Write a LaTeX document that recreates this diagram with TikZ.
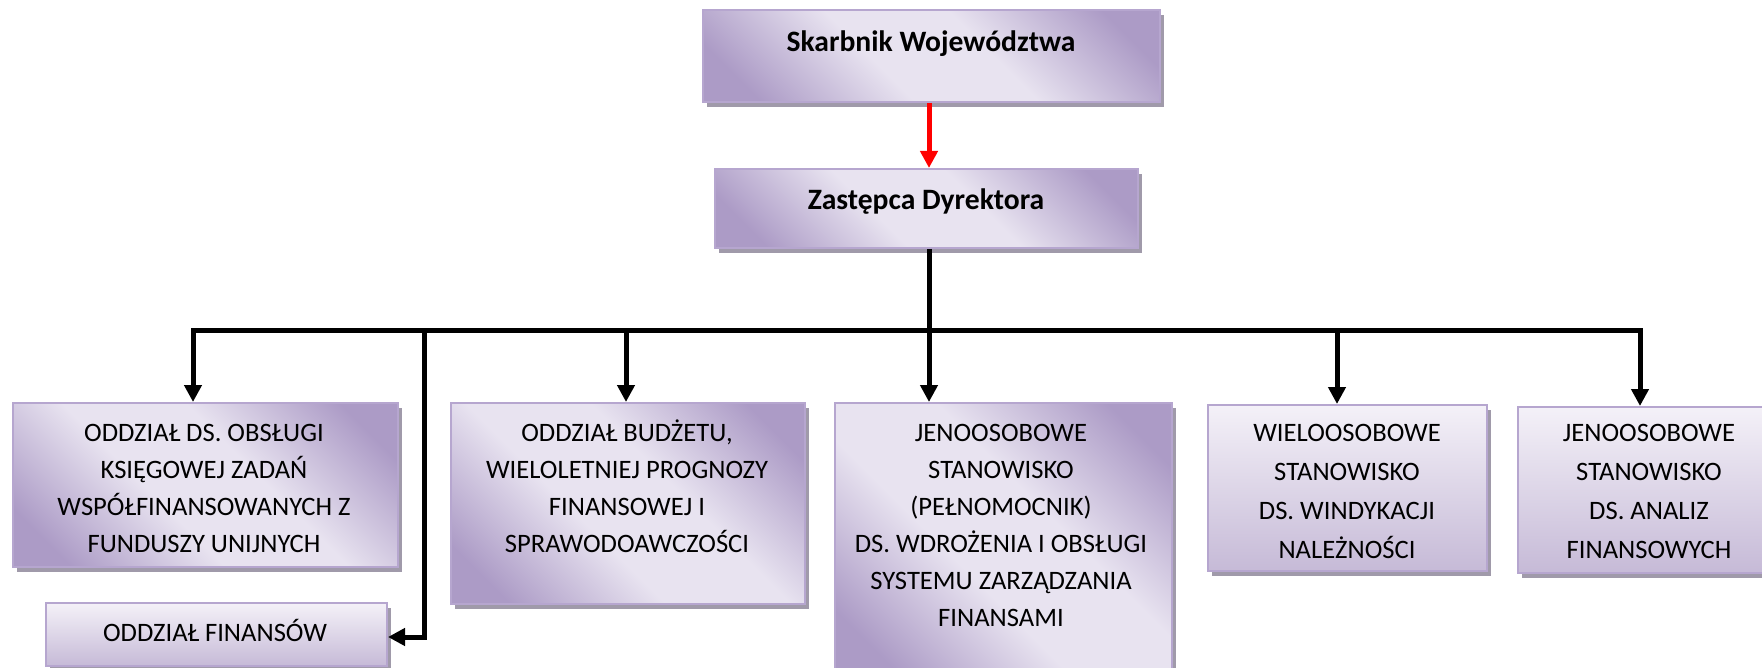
\documentclass[tikz,border=0pt]{standalone}
\usepackage{fontspec}
\setmainfont{Carlito}
\usetikzlibrary{arrows.meta,shadows}

\definecolor{pdark}{RGB}{172,155,198}
\definecolor{plight}{RGB}{232,227,240}
\definecolor{vtop}{RGB}{244,241,248}
\definecolor{vbot}{RGB}{198,186,215}
\definecolor{pborder}{RGB}{182,166,207}
\definecolor{shadowc}{RGB}{160,154,170}
\definecolor{linkred}{RGB}{255,0,0}

% dark corner - light band - dark corner, laid along the box diagonal
\pgfdeclarehorizontalshading{boxdiag}{100bp}{color(0bp)=(pdark); color(22bp)=(pdark); color(42bp)=(plight); color(58bp)=(plight); color(78bp)=(pdark); color(100bp)=(pdark)}

\tikzset{
  orgbox/.style={rectangle, draw=pborder, line width=2pt, inner sep=0pt,
    drop shadow={shadow xshift=4pt, shadow yshift=-5pt, fill=shadowc, opacity=1}},
  diagfill/.style={shading=boxdiag, shading angle=45},
  vertfill/.style={top color=vtop, bottom color=vbot},
  boxtext/.style={inner sep=0pt, align=center, anchor=north, text=black,
    font=\fontsize{26.6}{37}\selectfont},
  widetext/.style={boxtext, font=\fontsize{26.6}{39}\selectfont},
  titletext/.style={inner sep=0pt, anchor=base, text=black,
    font=\fontsize{29.6}{34}\selectfont\bfseries},
  link/.style={line width=5pt, black, -{Triangle[width=17pt,length=17pt]}},
  redlink/.style={line width=5pt, linkred, -{Triangle[width=17pt,length=17pt]}},
  busline/.style={line width=5pt, black},
}

\begin{document}
\begin{tikzpicture}[x=1pt, y=-1pt]
  \useasboundingbox (0,0) rectangle (1762,668);
  \clip (0,0) rectangle (1762,668);

  % head of the unit and deputy
  \node[orgbox, diagfill, minimum width=457pt, minimum height=92pt] (skarb) at (931.5,56) {};
  \node[titletext] (tskarb) at (931,52) {Skarbnik Województwa};
  \node[orgbox, diagfill, minimum width=423pt, minimum height=79pt] (zast) at (926.5,208.5) {};
  \node[titletext] (tzast) at (926,210) {Zastępca Dyrektora};

  % subordinate units
  \node[orgbox, diagfill, minimum width=385pt, minimum height=164pt] (b1) at (205.5,485) {};
  \node[boxtext] (t1) at (204,415) {\strut ODDZIAŁ DS. OBSŁUGI\\KSIĘGOWEJ ZADAŃ\\WSPÓŁFINANSOWANYCH Z\\FUNDUSZY UNIJNYCH};

  \node[orgbox, vertfill, minimum width=341pt, minimum height=63pt] (bf) at (216.5,634.5) {};
  \node[inner sep=0pt, anchor=base, font=\fontsize{26.6}{37}\selectfont] (tf) at (215,641) {ODDZIAŁ FINANSÓW};

  \node[orgbox, diagfill, minimum width=354pt, minimum height=201pt] (b2) at (628,503.5) {};
  \node[boxtext] (t2) at (627,415) {\strut ODDZIAŁ BUDŻETU,\\WIELOLETNIEJ PROGNOZY\\FINANSOWEJ I\\SPRAWODOAWCZOŚCI};

  \node[orgbox, diagfill, minimum width=337pt, minimum height=272pt] (b3) at (1003.5,539) {};
  \node[boxtext] (t3) at (1001,415) {\strut JENOOSOBOWE\\STANOWISKO\\(PEŁNOMOCNIK)\\DS. WDROŻENIA I OBSŁUGI\\SYSTEMU ZARZĄDZANIA\\FINANSAMI};

  \node[orgbox, vertfill, minimum width=279pt, minimum height=166pt] (b4) at (1347.5,488) {};
  \node[widetext] (t4) at (1347,413.7) {\strut WIELOOSOBOWE\\STANOWISKO\\DS. WINDYKACJI\\NALEŻNOŚCI};

  \node[orgbox, vertfill, minimum width=262pt, minimum height=166pt] (b5) at (1649,490) {};
  \node[widetext] (t5) at (1649,413.7) {\strut JENOOSOBOWE\\STANOWISKO\\DS. ANALIZ\\FINANSOWYCH};

  % points on the distribution bus
  \coordinate (spine) at (929,331);
  \coordinate (d1) at (193,331);
  \coordinate (dl) at (424,331);
  \coordinate (d2) at (626,331);
  \coordinate (d4) at (1337,331);
  \coordinate (d5) at (1640,331);
  \coordinate (fk) at (424,637);

  % connectors
  \draw[redlink] (skarb.south -| spine) -- (zast.north -| spine);
  \draw[busline] (zast.south -| spine) -- (spine);
  \draw[link] (spine) -- (d1) -- (d1 |- b1.north);
  \draw[link] (spine) -- (d5) -- (d5 |- b5.north);
  \draw[link] (d2) -- (d2 |- b2.north);
  \draw[link] (spine) -- (spine |- b3.north);
  \draw[link] (d4) -- (d4 |- b4.north);
  \draw[link] (dl) -- (fk) -- (bf.east |- fk);
\end{tikzpicture}
\end{document}
